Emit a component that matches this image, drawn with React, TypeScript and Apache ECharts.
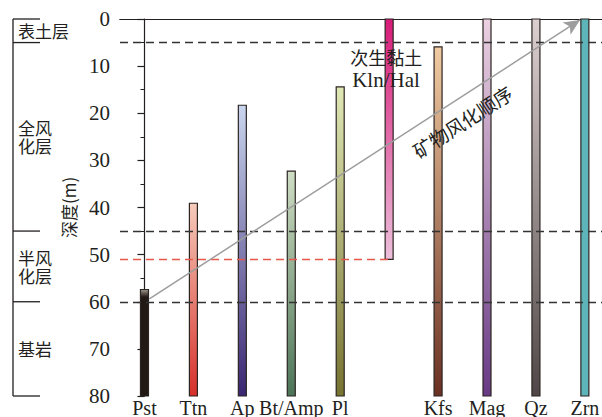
import React, { useEffect, useRef } from 'react';
import * as echarts from 'echarts';

const categories = ['Pst', 'Ttn', 'Ap', 'Bt/Amp', 'Pl', 'Kln/Hal', 'Kfs', 'Mag', 'Qz', 'Zrn'];
const tickLabels = ['Pst', 'Ttn', 'Ap', 'Bt/Amp', 'Pl', '', 'Kfs', 'Mag', 'Qz', 'Zrn'];
const topDepth = [57.4, 39.1, 18.3, 32.3, 14.4, 0, 5.9, 0, 0, 0];
const bottomDepth = [80, 80, 80, 80, 80, 51, 80, 80, 80, 80];
const colorTop = ['#a09990', '#f6cbbb', '#c9d6ee', '#cfdec4', '#e0e8b6', '#d71b78', '#f1cba2', '#ebd1e1', '#dccfd0', '#5db4b9'];
const colorBottom = ['#221915', '#d6302a', '#3a2672', '#4c7457', '#777330', '#ecbfdb', '#6a3022', '#683a85', '#4f4747', '#5db4b9'];
const fadeEnd = [0.07, 1, 1, 1, 1, 1, 1, 1, 1, 1];
const depthTicks = [0, 10, 20, 30, 40, 50, 60, 70, 80];
const zoneBounds = [0, 5, 45, 60, 80];
const zoneNames = [['表土层'], ['全风', '化层'], ['半风', '化层'], ['基岩']];
const dashedDepths = [5, 45, 60];
const clayLimit = 51;
const arrowFrom = [0.1, 59.4];
const arrowTo = [8.9, 0.2];

const SERIF = '"Liberation Serif", "Times New Roman", serif';
const CJK = '"Noto Sans CJK SC", "Noto Sans", sans-serif';
const INK = '#231f20';

export default function App() {
  const ref = useRef<HTMLDivElement>(null);
  useEffect(() => {
    if (!ref.current) return;
    const chart = echarts.init(ref.current, null, { renderer: 'svg' });
    const xMin = -0.5;
    const xMax = 9.35;
    const barData = categories.map((c, i) => [i, topDepth[i], bottomDepth[i]]);
    chart.setOption({
      animation: false,
      grid: { left: 120, right: 0, top: 19, bottom: 21, outerBoundsMode: 'none', containLabel: false },
      xAxis: [
        {
          type: 'value',
          min: xMin,
          max: xMax,
          axisLine: { show: true, lineStyle: { color: INK, width: 1.2 } },
          axisTick: { show: false },
          splitLine: { show: false },
          axisLabel: {
            customValues: categories.map((c, i) => i),
            formatter: (v: number) => tickLabels[Math.round(v)] ?? '',
            color: INK,
            fontFamily: SERIF,
            fontSize: 20,
            margin: 2,
          },
        },
        {
          type: 'value',
          position: 'top',
          min: xMin,
          max: xMax,
          axisLine: { show: true, onZero: false, lineStyle: { color: INK, width: 1.2 } },
          axisTick: { show: false },
          axisLabel: { show: false },
          splitLine: { show: false },
        },
      ],
      yAxis: {
        type: 'value',
        inverse: true,
        min: 0,
        max: 80,
        interval: 10,
        name: '深度(m)',
        nameLocation: 'middle',
        nameRotate: 90,
        nameGap: 43,
        nameTextStyle: { fontFamily: CJK, fontSize: 17, color: INK },
        axisLine: { show: true, lineStyle: { color: INK, width: 1.2 } },
        axisTick: { show: true, length: 7, lineStyle: { color: INK, width: 1.2 } },
        minorTick: { show: true, splitNumber: 2, length: 4, lineStyle: { color: INK, width: 1 } },
        splitLine: { show: false },
        axisLabel: {
          customValues: depthTicks,
          color: INK,
          fontFamily: SERIF,
          fontSize: 21,
          margin: 10,
        },
      },
      series: [
        {
          type: 'scatter',
          data: [[0, 80]],
          symbolSize: 0,
          silent: true,
          z: 1,
          markLine: {
            silent: true,
            symbol: 'none',
            label: { show: false },
            lineStyle: { color: '#333', width: 1.3, type: [8, 5] },
            data: [
              ...dashedDepths.map((d) => ({ yAxis: d })),
              [
                { coord: [xMin, clayLimit], lineStyle: { color: '#e8584b', width: 1.3, type: [8, 5] } },
                { coord: [5, clayLimit] },
              ],
            ],
          },
        },
        {
          type: 'custom',
          z: 3,
          data: barData,
          encode: { x: 0, y: [1, 2] },
          renderItem: (params: any, api: any) => {
            const i = api.value(0);
            const p1 = api.coord([i, api.value(1)]);
            const p2 = api.coord([i, api.value(2)]);
            const w = 8;
            const fe = fadeEnd[i];
            const stops = [
              { offset: 0, color: colorTop[i] },
              { offset: fe, color: colorBottom[i] },
              { offset: 1, color: colorBottom[i] },
            ];
            return {
              type: 'rect',
              shape: {
                x: p1[0] - w / 2,
                y: Math.min(p1[1], p2[1]),
                width: w,
                height: Math.abs(p2[1] - p1[1]),
              },
              style: {
                fill: new echarts.graphic.LinearGradient(0, 0, 0, 1, stops),
                stroke: '#2b2522',
                lineWidth: 1.2,
              },
            };
          },
        },
        {
          type: 'scatter',
          data: [[0, 80]],
          symbolSize: 0,
          silent: true,
          z: 5,
          markLine: {
            silent: true,
            symbol: ['none', 'arrow'],
            symbolSize: [11, 16],
            label: { show: false },
            lineStyle: { color: '#9d9d9d', width: 1.5, type: 'solid' },
            data: [[{ coord: arrowFrom }, { coord: arrowTo }]],
          },
        },
      ],
    });

    const yPix = (d: number) => chart.convertToPixel({ yAxisIndex: 0 }, d) as number;
    const p0 = chart.convertToPixel({ xAxisIndex: 0, yAxisIndex: 0 }, arrowFrom) as number[];
    const p1 = chart.convertToPixel({ xAxisIndex: 0, yAxisIndex: 0 }, arrowTo) as number[];
    const ang = Math.atan2(p0[1] - p1[1], p1[0] - p0[0]);
    const graphics: any[] = [];
    const colX = 13;
    graphics.push({
      type: 'line',
      shape: { x1: colX, y1: yPix(zoneBounds[0]), x2: colX, y2: yPix(zoneBounds[zoneBounds.length - 1]) },
      style: { stroke: INK, lineWidth: 1.3 },
    });
    zoneBounds.forEach((b) => {
      graphics.push({
        type: 'line',
        shape: { x1: colX, y1: yPix(b), x2: 40, y2: yPix(b) },
        style: { stroke: INK, lineWidth: 1.3 },
      });
    });
    const pitch = 18;
    zoneNames.forEach((lines, k) => {
      const mid = (yPix(zoneBounds[k]) + yPix(zoneBounds[k + 1])) / 2;
      lines.forEach((ln, j) => {
        graphics.push({
          type: 'text',
          x: 18,
          y: mid + (j - (lines.length - 1) / 2) * pitch,
          style: {
            text: ln,
            fill: INK,
            font: `17px ${CJK}`,
            align: 'left',
            verticalAlign: 'middle',
          },
        });
      });
    });
    const clayX = chart.convertToPixel({ xAxisIndex: 0 }, 5) as number;
    graphics.push({
      type: 'text',
      x: clayX - 39,
      y: 57,
      style: { text: '次生黏土', fill: INK, font: `18px ${CJK}`, align: 'left', verticalAlign: 'middle' },
      z: 10,
    });
    graphics.push({
      type: 'text',
      x: clayX - 37,
      y: 80,
      style: { text: 'Kln/Hal', fill: INK, font: `21px ${SERIF}`, align: 'left', verticalAlign: 'middle' },
      z: 10,
    });
    const t = 0.7;
    const off = 21;
    graphics.push({
      type: 'text',
      x: p0[0] + (p1[0] - p0[0]) * t + Math.sin(ang) * off,
      y: p0[1] + (p1[1] - p0[1]) * t + Math.cos(ang) * off,
      rotation: ang,
      style: { text: '矿物风化顺序', fill: INK, font: `19px ${CJK}`, align: 'center', verticalAlign: 'middle' },
      z: 10,
    });
    chart.setOption({ graphic: graphics });
    return () => chart.dispose();
  }, []);
  return <div ref={ref} style={{ position: 'absolute', left: 0, top: 0, width: 602, height: 417 }} />;
}
